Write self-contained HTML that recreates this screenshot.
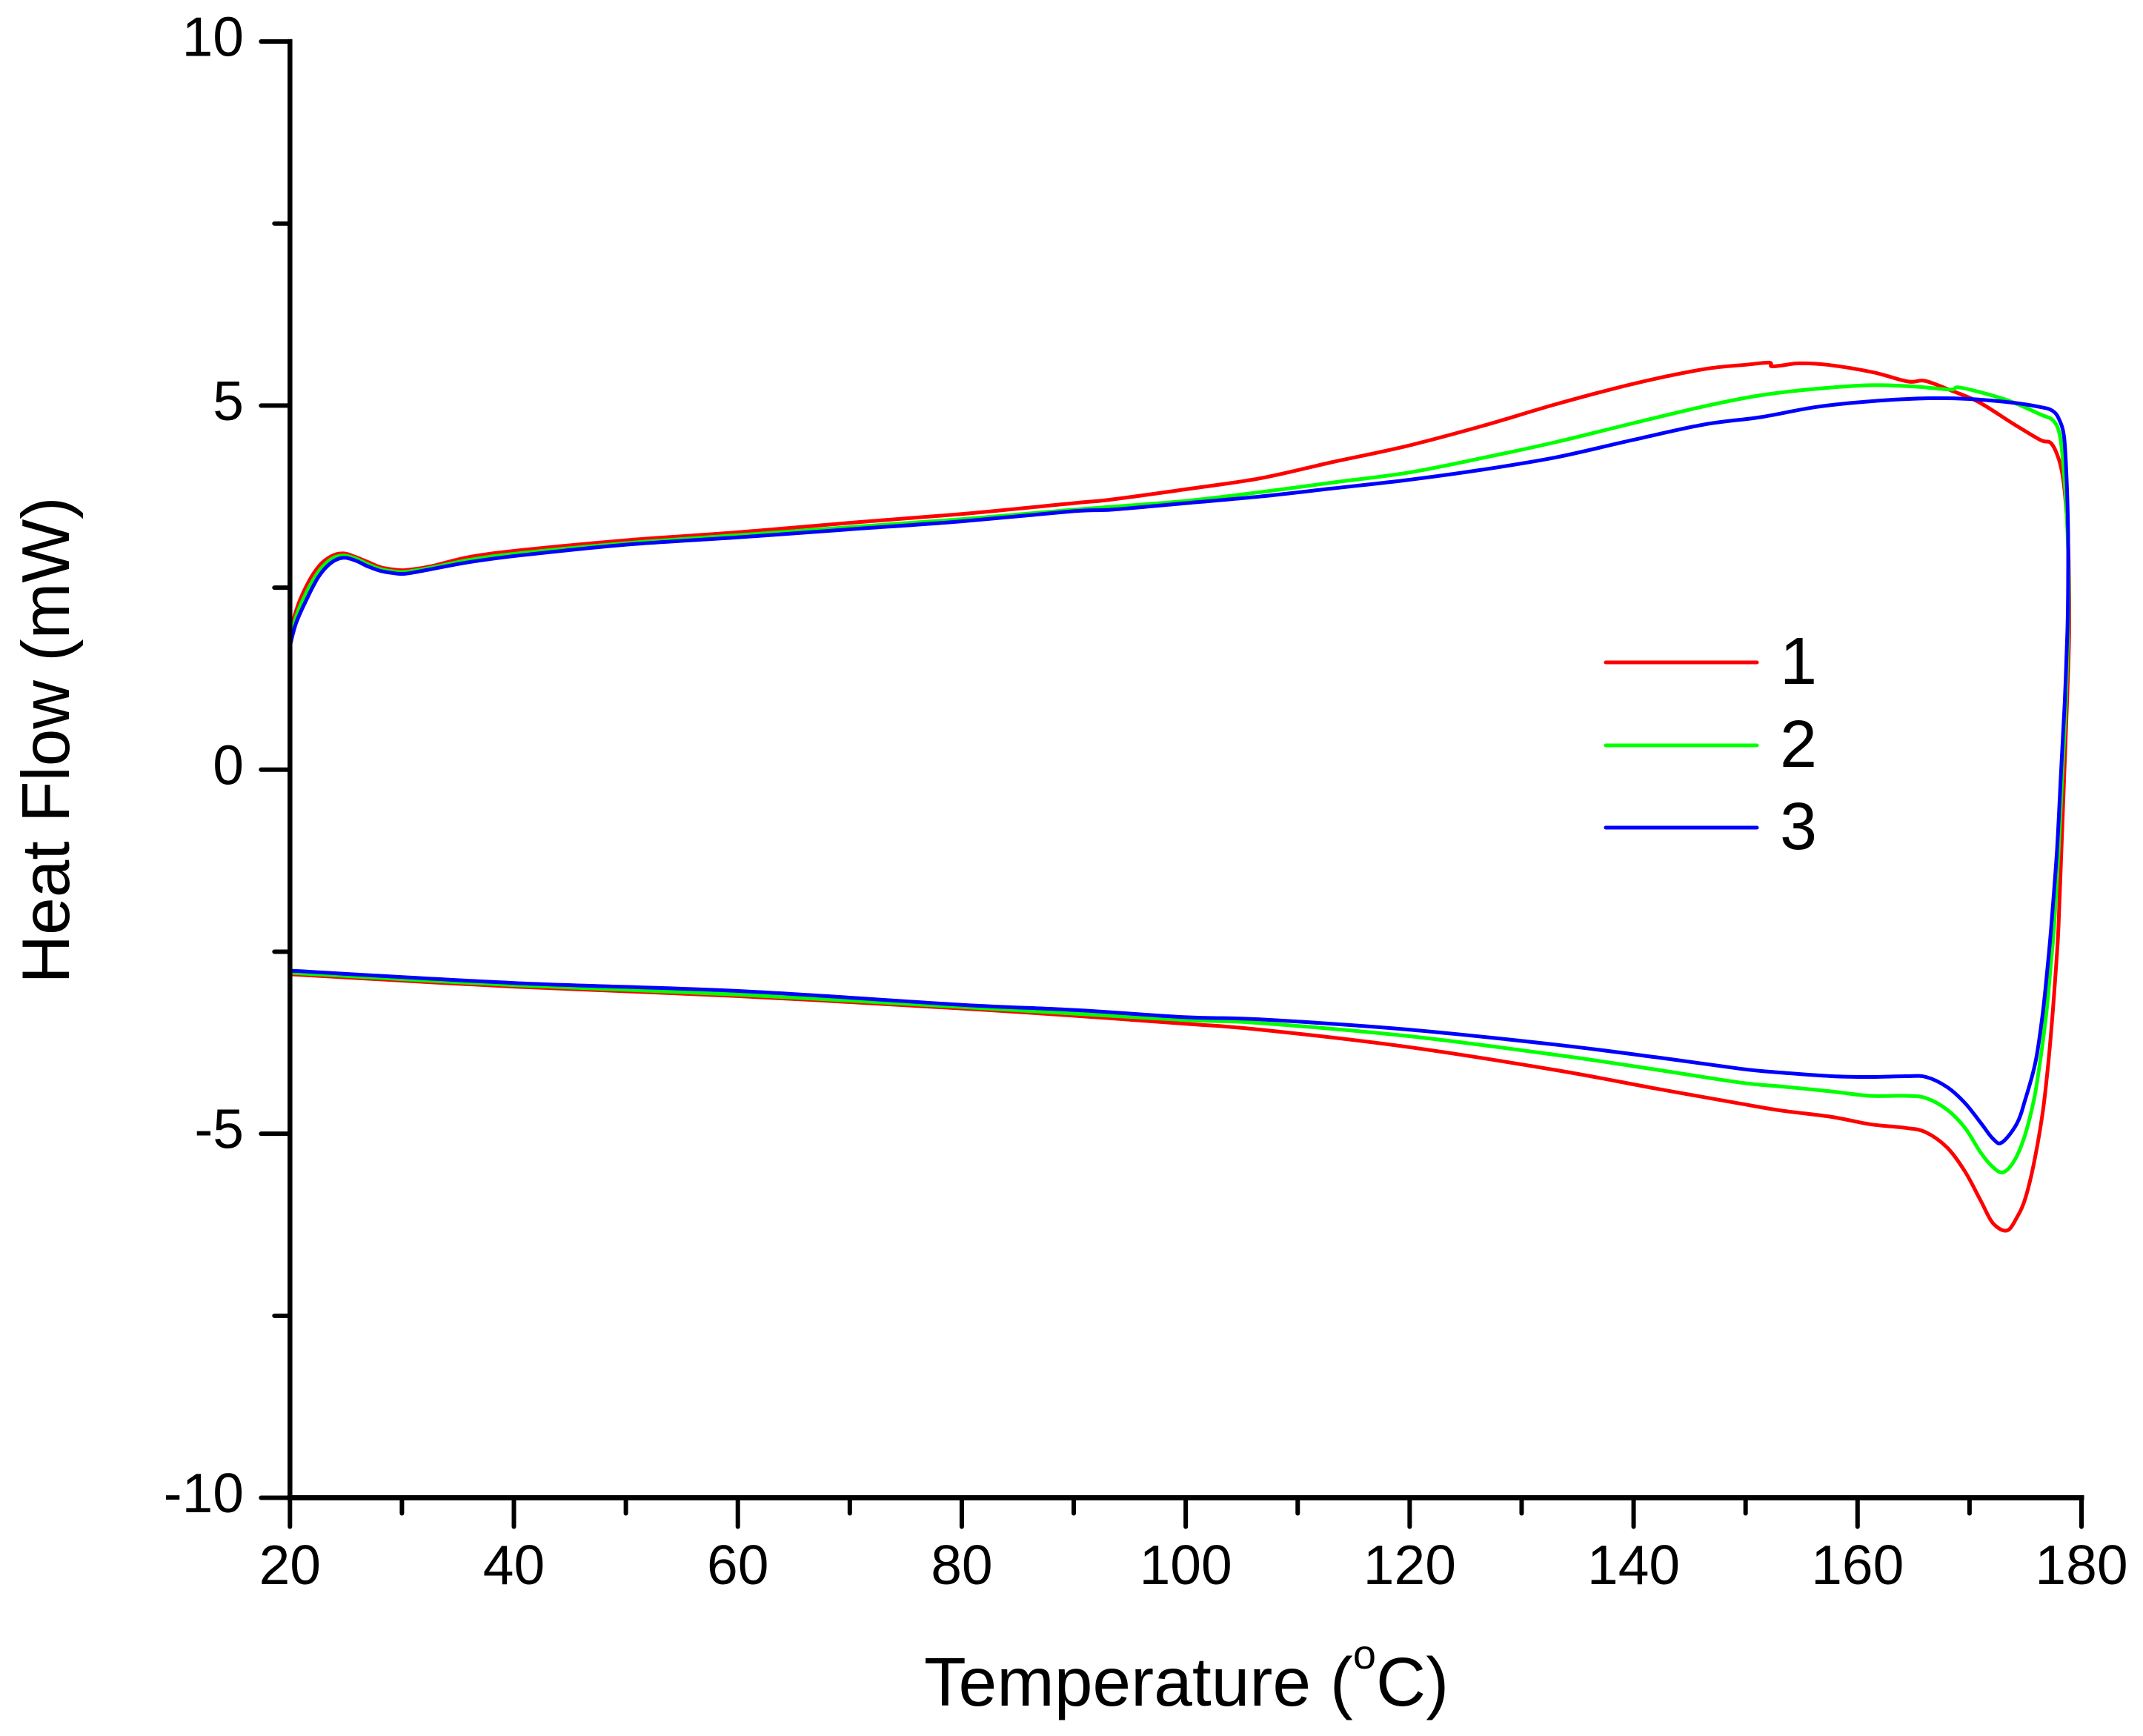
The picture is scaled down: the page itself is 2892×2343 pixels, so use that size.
<!DOCTYPE html>
<html lang="en">
<head>
<meta charset="utf-8">
<title>Heat Flow vs Temperature</title>
<style>
html,body{margin:0;padding:0;background:#fff;width:2892px;height:2343px;overflow:hidden}
svg{display:block}
text{font-family:"Liberation Sans",sans-serif;fill:#000}
</style>
</head>
<body>
<svg id="chart" xmlns="http://www.w3.org/2000/svg" width="2892" height="2343" viewBox="0 0 2892 2343">
  <rect x="0" y="0" width="2892" height="2343" fill="#fff"/>
  <g id="curves"></g>
  <g id="axes"></g>
  <text transform="translate(93,999) rotate(-90)" text-anchor="middle" font-size="91">Heat Flow (mW)</text>
  <text x="1247" y="2302" font-size="93">Temperature (<tspan font-size="56" dy="-50">o</tspan><tspan dy="50">C)</tspan></text>
  <g>
    <line x1="2167" y1="894" x2="2371" y2="894" stroke="#ff0000" stroke-width="5" stroke-linecap="round"/>
    <text x="2402" y="923" font-size="90">1</text>
    <line x1="2167" y1="1006" x2="2371" y2="1006" stroke="#00ff00" stroke-width="5" stroke-linecap="round"/>
    <text x="2402" y="1035" font-size="90">2</text>
    <line x1="2167" y1="1117" x2="2371" y2="1117" stroke="#0000ff" stroke-width="5" stroke-linecap="round"/>
    <text x="2402" y="1146" font-size="90">3</text>
  </g>
</svg>
<script>
const xMajorTicks = [20, 40, 60, 80, 100, 120, 140, 160, 180];
const xMinorTicks = [30, 50, 70, 90, 110, 130, 150, 170];
const yMajorTicks = [10, 5, 0, -5, -10];
const yMinorTicks = [7.5, 2.5, -2.5, -7.5];
const xDomain = [20, 180];
const yDomain = [-10, 10];

const series1Temp = [20, 20.54, 21.46, 22.56, 23.67, 24.77, 25.87, 26.98, 28.08, 29.18, 30.28, 32.5, 36, 40.4, 50, 60, 70, 80, 90, 93.4, 100, 106.6, 113, 119.9, 126.5, 133.1, 140, 146.3, 150, 152.1, 152.3, 153.2, 154.8, 157.3, 161.3, 164.5, 166, 168.3, 170.8, 173.8, 176.3, 177.3, 178, 178.4, 178.7, 178.85, 178.9, 178.7, 178.45, 178.2, 177.95, 177.75, 177.43, 177.05, 176.55, 175.8, 175, 174.23, 173.34, 172.1, 171, 169.6, 168, 166.1, 164.3, 161.1, 157.7, 153.1, 149.65, 142, 133.2, 119.9, 106.6, 100, 90, 80, 60, 40, 20];
const series1Flow = [1.82, 2.18, 2.52, 2.79, 2.93, 2.97, 2.92, 2.85, 2.78, 2.75, 2.74, 2.79, 2.92, 3.01, 3.15, 3.26, 3.39, 3.51, 3.66, 3.71, 3.85, 4.0, 4.22, 4.45, 4.72, 5.02, 5.3, 5.5, 5.56, 5.59, 5.54, 5.55, 5.58, 5.56, 5.46, 5.33, 5.34, 5.21, 5.05, 4.76, 4.53, 4.48, 4.25, 3.95, 3.44, 2.93, 1.92, 0.91, -0.11, -1.13, -2.15, -2.66, -3.33, -4.01, -4.69, -5.37, -5.88, -6.15, -6.33, -6.23, -5.92, -5.52, -5.19, -4.98, -4.92, -4.87, -4.77, -4.68, -4.59, -4.38, -4.13, -3.81, -3.57, -3.49, -3.38, -3.28, -3.11, -2.98, -2.81];

const series2Temp = [20, 20.54, 21.46, 22.56, 23.67, 24.77, 25.87, 26.98, 28.08, 29.18, 30.28, 32.5, 36, 40.4, 50, 60, 70, 80, 90, 93.4, 100, 106.6, 113, 119.9, 126.5, 133.1, 140, 146.3, 151.3, 156.3, 161.3, 165.1, 168.3, 169, 171.3, 173.8, 176.3, 177.5, 178.1, 178.5, 178.75, 178.85, 178.8, 178.6, 178.27, 177.95, 177.55, 177.27, 176.87, 176.3, 175.77, 174.93, 174, 173, 172.1, 171, 169.6, 168, 166.1, 164.3, 161.1, 157.7, 153.1, 149.65, 142, 133.2, 119.9, 106.6, 100, 90, 80, 60, 40, 20];
const series2Flow = [1.76, 2.1, 2.43, 2.72, 2.89, 2.94, 2.9, 2.82, 2.755, 2.725, 2.715, 2.77, 2.88, 2.97, 3.11, 3.22, 3.33, 3.44, 3.57, 3.61, 3.69, 3.81, 3.94, 4.08, 4.28, 4.5, 4.76, 4.99, 5.14, 5.23, 5.28, 5.26, 5.22, 5.25, 5.17, 5.05, 4.88, 4.79, 4.56, 3.95, 3.27, 2.6, 1.92, 0.91, -0.11, -1.13, -2.15, -2.66, -3.33, -4.01, -4.52, -5.03, -5.37, -5.53, -5.46, -5.26, -4.92, -4.67, -4.51, -4.48, -4.48, -4.42, -4.35, -4.3, -4.12, -3.92, -3.66, -3.48, -3.44, -3.35, -3.26, -3.09, -2.96, -2.79];

const series3Temp = [20, 20.54, 21.46, 22.56, 23.67, 24.77, 25.87, 26.98, 28.08, 29.18, 30.28, 32.5, 36, 40.4, 50, 60, 70, 80, 90, 93.4, 100, 106.6, 113, 119.9, 126.5, 133.1, 140, 146.3, 151.3, 156.3, 161.3, 166.3, 170, 173.8, 176.3, 177.4, 178, 178.45, 178.68, 178.8, 178.8, 178.74, 178.5, 178.15, 177.8, 177.3, 177, 176.55, 175.9, 175, 174.23, 172.9, 172.1, 171, 169.6, 168, 166.1, 164.3, 161.1, 157.7, 153.1, 149.65, 142, 133.2, 119.9, 106.6, 100, 90, 80, 60, 40, 20];
const series3Flow = [1.7, 2.01, 2.33, 2.65, 2.84, 2.91, 2.87, 2.79, 2.73, 2.7, 2.69, 2.75, 2.85, 2.94, 3.09, 3.19, 3.3, 3.41, 3.55, 3.57, 3.66, 3.75, 3.86, 3.98, 4.12, 4.29, 4.53, 4.74, 4.84, 4.98, 5.06, 5.1, 5.09, 5.04, 4.98, 4.93, 4.81, 4.56, 3.95, 3.27, 2.5, 1.92, 0.91, -0.11, -1.13, -2.15, -2.66, -3.33, -4.01, -4.52, -4.86, -5.12, -5.07, -4.85, -4.58, -4.36, -4.22, -4.21, -4.22, -4.21, -4.16, -4.11, -3.95, -3.78, -3.57, -3.43, -3.4, -3.3, -3.23, -3.04, -2.93, -2.76];

const NS = 'http://www.w3.org/2000/svg';
const plotLeft = 391.3, plotRight = 2809, plotTop = 56, plotBottom = 2021.5;

function xPos(t) {
  return plotLeft + (t - xDomain[0]) / (xDomain[1] - xDomain[0]) * (plotRight - plotLeft);
}
function yPos(v) {
  return plotBottom - (v - yDomain[0]) / (yDomain[1] - yDomain[0]) * (plotBottom - plotTop);
}
function make(tag, attrs, parent) {
  const el = document.createElementNS(NS, tag);
  for (const k in attrs) el.setAttribute(k, attrs[k]);
  parent.appendChild(el);
  return el;
}
function smoothPath(temps, flows) {
  const p = temps.map((t, i) => [xPos(t), yPos(flows[i])]);
  let d = 'M' + p[0][0].toFixed(1) + ' ' + p[0][1].toFixed(1);
  for (let i = 0; i < p.length - 1; i++) {
    const a = p[Math.max(i - 1, 0)], b = p[i], c = p[i + 1], e = p[Math.min(i + 2, p.length - 1)];
    const k = 1 / 6;
    d += 'C' + (b[0] + (c[0] - a[0]) * k).toFixed(1) + ' ' + (b[1] + (c[1] - a[1]) * k).toFixed(1) + ' ' +
      (c[0] - (e[0] - b[0]) * k).toFixed(1) + ' ' + (c[1] - (e[1] - b[1]) * k).toFixed(1) + ' ' +
      c[0].toFixed(1) + ' ' + c[1].toFixed(1);
  }
  return d;
}

const curves = document.getElementById('curves');
const axes = document.getElementById('axes');

const curve1 = make('path', {d: smoothPath(series1Temp, series1Flow), fill: 'none', stroke: '#ff0000', 'stroke-width': 5, 'stroke-linejoin': 'round'}, curves);


const curve2 = make('path', {d: smoothPath(series2Temp, series2Flow), fill: 'none', stroke: '#00ff00', 'stroke-width': 5, 'stroke-linejoin': 'round'}, curves);


const curve3 = make('path', {d: smoothPath(series3Temp, series3Flow), fill: 'none', stroke: '#0000ff', 'stroke-width': 5, 'stroke-linejoin': 'round'}, curves);



const yAxisLine = make('line', {x1: plotLeft, y1: plotTop, x2: plotLeft, y2: plotBottom, stroke: '#000', 'stroke-width': 6.5, 'stroke-linecap': 'square'}, axes);


const xAxisLine = make('line', {x1: plotLeft, y1: plotBottom, x2: plotRight, y2: plotBottom, stroke: '#000', 'stroke-width': 7, 'stroke-linecap': 'square'}, axes);



xMajorTicks.forEach(function (t) {
  const tick = make('line', {x1: xPos(t), y1: plotBottom, x2: xPos(t), y2: plotBottom + 39, stroke: '#000', 'stroke-width': 6, 'stroke-linecap': 'round'}, axes);
  
  
  const label = make('text', {x: xPos(t), y: 2138, 'text-anchor': 'middle', 'font-size': 75}, axes);
  label.textContent = String(t);
  
  
});
xMinorTicks.forEach(function (t) {
  const tick = make('line', {x1: xPos(t), y1: plotBottom, x2: xPos(t), y2: plotBottom + 21, stroke: '#000', 'stroke-width': 6, 'stroke-linecap': 'round'}, axes);
  
  
});
yMajorTicks.forEach(function (v) {
  const tick = make('line', {x1: plotLeft, y1: yPos(v), x2: plotLeft - 39, y2: yPos(v), stroke: '#000', 'stroke-width': 6, 'stroke-linecap': 'round'}, axes);
  
  
  const label = make('text', {x: 329, y: yPos(v) + 19.5, 'text-anchor': 'end', 'font-size': 75}, axes);
  label.textContent = String(v);
  
  
});
yMinorTicks.forEach(function (v) {
  const tick = make('line', {x1: plotLeft, y1: yPos(v), x2: plotLeft - 21, y2: yPos(v), stroke: '#000', 'stroke-width': 6, 'stroke-linecap': 'round'}, axes);
  
  
});
</script>
</body>
</html>
